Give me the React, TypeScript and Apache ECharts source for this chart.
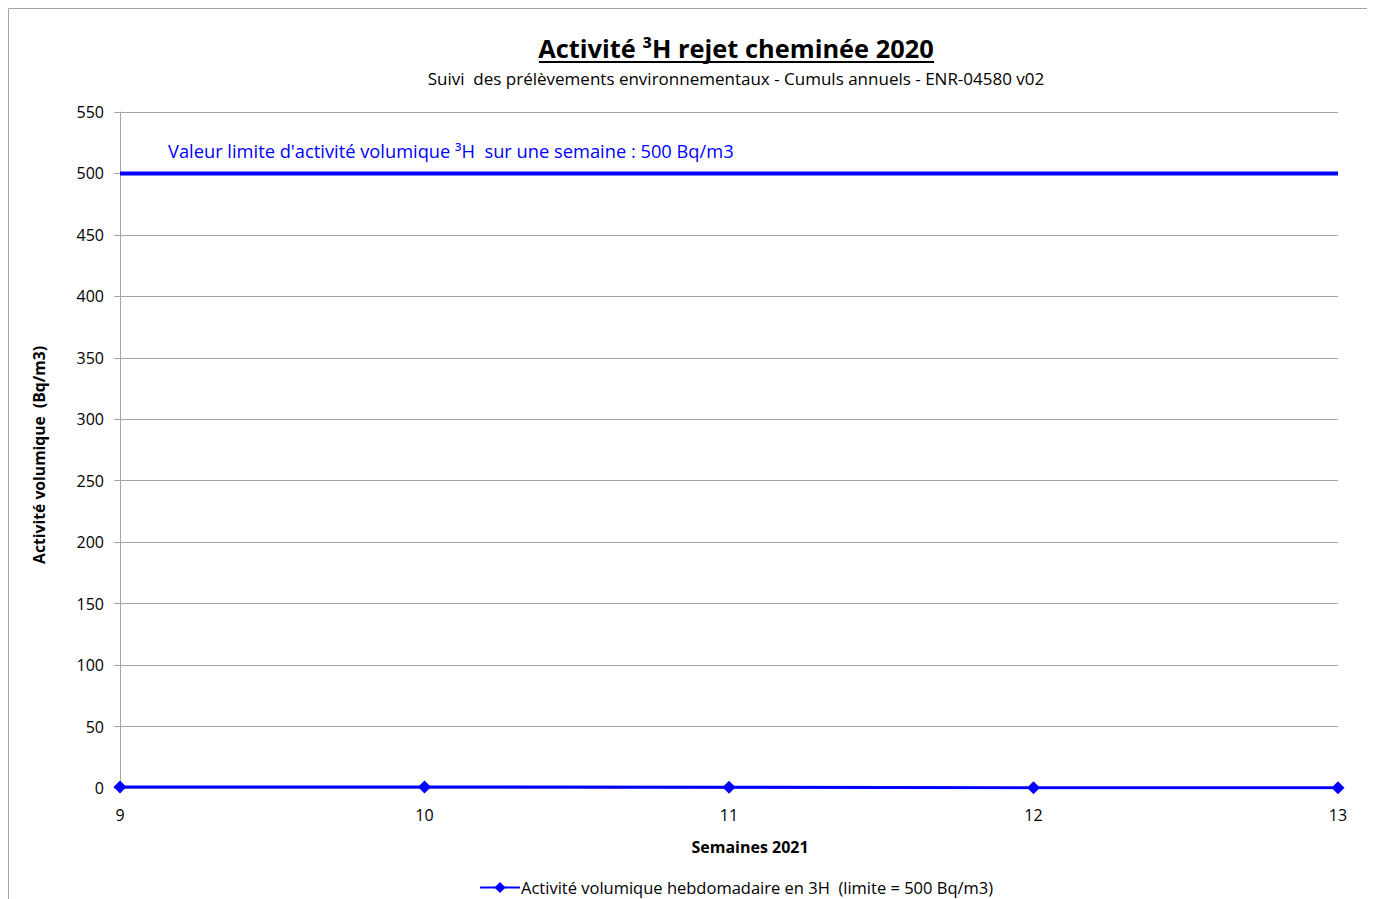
import React, { useEffect, useRef } from "react";
import * as echarts from "echarts";

const weeks = ["9", "10", "11", "12", "13"];
const activity = [0.8, 0.8, 0.6, 0.2, 0.2];
const limitValues = [500, 500, 500, 500, 500];
const yTicks = { min: 0, max: 550, interval: 50 };

const titleText = "Activité ³H rejet cheminée 2020";
const subtitleText = "Suivi  des prélèvements environnementaux - Cumuls annuels - ENR-04580 v02";
const limitText = "Valeur limite d'activité volumique ³H  sur une semaine : 500 Bq/m3";
const seriesName = "Activité volumique hebdomadaire en 3H  (limite = 500 Bq/m3)";

const FONT = "'Open Sans', sans-serif";
const BLUE = "#0000ff";
const GRAY = "#a6a6a6";

export default function App() {
  const ref = useRef<HTMLDivElement>(null);
  useEffect(() => {
    if (!ref.current) return;
    const chart = echarts.init(ref.current, null, { renderer: "svg" });
    chart.setOption({
      animation: false,
      backgroundColor: "#ffffff",
      textStyle: { fontFamily: FONT },
      graphic: [
        { type: "line", shape: { x1: 0.5, y1: 0.5, x2: 1367, y2: 0.5 }, style: { stroke: GRAY, lineWidth: 1 } },
        { type: "line", shape: { x1: 0.5, y1: 0.5, x2: 0.5, y2: 891 }, style: { stroke: GRAY, lineWidth: 1 } },
        {
          type: "text", x: 728, y: 40,
          style: { text: titleText, font: `bold 25.4px ${FONT}`, fill: "#000", textAlign: "center", textVerticalAlign: "middle" },
        },
        { type: "line", shape: { x1: 531, y1: 54, x2: 926, y2: 54 }, style: { stroke: "#000", lineWidth: 2 } },
        {
          type: "text", x: 728, y: 70,
          style: { text: subtitleText, font: `17px ${FONT}`, fill: "#000", textAlign: "center", textVerticalAlign: "middle" },
        },
        {
          type: "text", x: 160, y: 142,
          style: { text: limitText, font: `18.3px ${FONT}`, fill: BLUE, textAlign: "left", textVerticalAlign: "middle" },
        },
      ],
      legend: {
        data: [seriesName],
        left: 466,
        bottom: -2,
        itemWidth: 40,
        itemHeight: 14,
        itemGap: 4,
        textStyle: { fontSize: 16.5, color: "#000", fontFamily: FONT, padding: [0, 0, 0, -4] },
      },
      grid: { left: 112, right: 37, top: 104, bottom: 111, containLabel: false },
      xAxis: {
        type: "category",
        data: weeks,
        boundaryGap: false,
        name: "Semaines 2021",
        nameLocation: "middle",
        nameGap: 51,
        nameTextStyle: { fontWeight: "bold", fontSize: 16, color: "#000", fontFamily: FONT, padding: [0, 0, 0, 42] },
        axisLine: { lineStyle: { color: GRAY } },
        axisTick: { show: false },
        axisLabel: { fontSize: 16, color: "#000", margin: 19 },
        splitLine: { show: false },
      },
      yAxis: {
        type: "value",
        min: yTicks.min,
        max: yTicks.max,
        interval: yTicks.interval,
        name: "Activité volumique  (Bq/m3)",
        nameLocation: "middle",
        nameGap: 73,
        nameTextStyle: { fontWeight: "bold", fontSize: 15.7, color: "#000", fontFamily: FONT, padding: [0, 10, 0, 0] },
        axisLine: { show: true, lineStyle: { color: GRAY } },
        axisTick: { show: true, length: 6, lineStyle: { color: GRAY } },
        axisLabel: { fontSize: 16, color: "#000", margin: 16 },
        splitLine: { lineStyle: { color: GRAY, width: 1 } },
      },
      series: [
        {
          name: "limite",
          type: "line",
          data: limitValues,
          symbol: "none",
          lineStyle: { color: BLUE, width: 4 },
          silent: true,
        },
        {
          name: seriesName,
          type: "line",
          data: activity,
          symbol: "diamond",
          symbolSize: 13,
          itemStyle: { color: BLUE },
          lineStyle: { color: BLUE, width: 3 },
        },
      ],
    });
    return () => chart.dispose();
  }, []);
  return <div ref={ref} style={{ width: 1367, height: 891 }} />;
}
